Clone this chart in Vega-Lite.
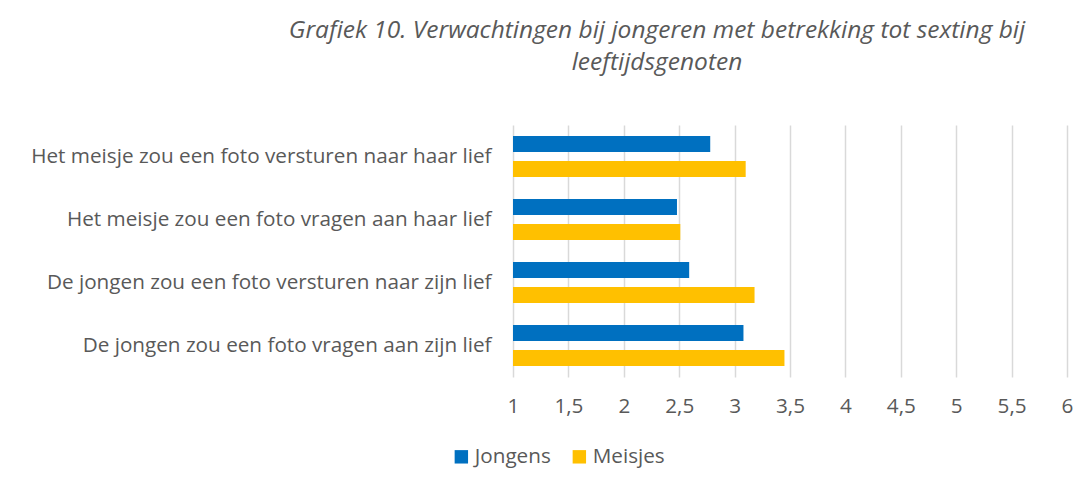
{
  "$schema": "https://vega.github.io/schema/vega-lite/v6.json",
  "autosize": "none",
  "width": 554,
  "height": 252,
  "padding": {"left": 513, "top": 125, "right": 23, "bottom": 115},
  "background": "white",
  "title": {
    "text": ["Grafiek 10. Verwachtingen bij jongeren met betrekking tot sexting bij", "leeftijdsgenoten"],
    "anchor": "middle",
    "frame": "group",
    "dx": -133,
    "offset": 50,
    "font": "Open Sans",
    "fontStyle": "italic",
    "fontWeight": "normal",
    "fontSize": 24.5,
    "lineHeight": 32,
    "color": "#595959"
  },
  "data": {
    "values": [
      {"vraag": "Het meisje zou een foto versturen naar haar lief", "groep": "Jongens", "score": 2.78},
      {"vraag": "Het meisje zou een foto versturen naar haar lief", "groep": "Meisjes", "score": 3.10},
      {"vraag": "Het meisje zou een foto vragen aan haar lief", "groep": "Jongens", "score": 2.48},
      {"vraag": "Het meisje zou een foto vragen aan haar lief", "groep": "Meisjes", "score": 2.51},
      {"vraag": "De jongen zou een foto versturen naar zijn lief", "groep": "Jongens", "score": 2.59},
      {"vraag": "De jongen zou een foto versturen naar zijn lief", "groep": "Meisjes", "score": 3.18},
      {"vraag": "De jongen zou een foto vragen aan zijn lief", "groep": "Jongens", "score": 3.08},
      {"vraag": "De jongen zou een foto vragen aan zijn lief", "groep": "Meisjes", "score": 3.45}
    ]
  },
  "mark": {"type": "bar", "stroke": null},
  "encoding": {
    "y": {
      "field": "vraag",
      "type": "nominal",
      "sort": null,
      "scale": {"paddingInner": 0.35, "paddingOuter": 0.175},
      "axis": {
        "title": null,
        "domain": false,
        "ticks": false,
        "labelFont": "Open Sans",
        "labelFontSize": 20.7,
        "labelColor": "#595959",
        "labelPadding": 22,
        "labelLimit": 600
      }
    },
    "yOffset": {
      "field": "groep",
      "type": "nominal",
      "sort": ["Jongens", "Meisjes"],
      "scale": {"paddingInner": 0.36, "paddingOuter": 0}
    },
    "x": {
      "field": "score",
      "type": "quantitative",
      "scale": {"domain": [1, 6], "zero": false, "nice": false},
      "axis": {
        "title": null,
        "values": [1, 1.5, 2, 2.5, 3, 3.5, 4, 4.5, 5, 5.5, 6],
        "labelExpr": "replace(format(datum.value, '.1~f'), '.', ',')",
        "domain": false,
        "ticks": false,
        "grid": true,
        "gridColor": "#d9d9d9",
        "gridWidth": 1.5,
        "labelFont": "Open Sans",
        "labelFontSize": 20.7,
        "labelColor": "#595959",
        "labelPadding": 19,
        "labelFlush": false
      }
    },
    "x2": {"datum": 1},
    "color": {
      "field": "groep",
      "type": "nominal",
      "scale": {"domain": ["Jongens", "Meisjes"], "range": ["#0070C0", "#FFC000"]},
      "legend": {
        "title": null,
        "orient": "none",
        "direction": "horizontal",
        "legendX": -62,
        "legendY": 321,
        "symbolType": "square",
        "symbolSize": 180,
        "symbolStrokeWidth": 0,
        "labelFont": "Open Sans",
        "labelFontSize": 20.7,
        "labelColor": "#595959",
        "labelOffset": 3,
        "columnPadding": 18
      }
    }
  },
  "config": {
    "view": {"stroke": null},
    "axisY": {"grid": false}
  }
}
